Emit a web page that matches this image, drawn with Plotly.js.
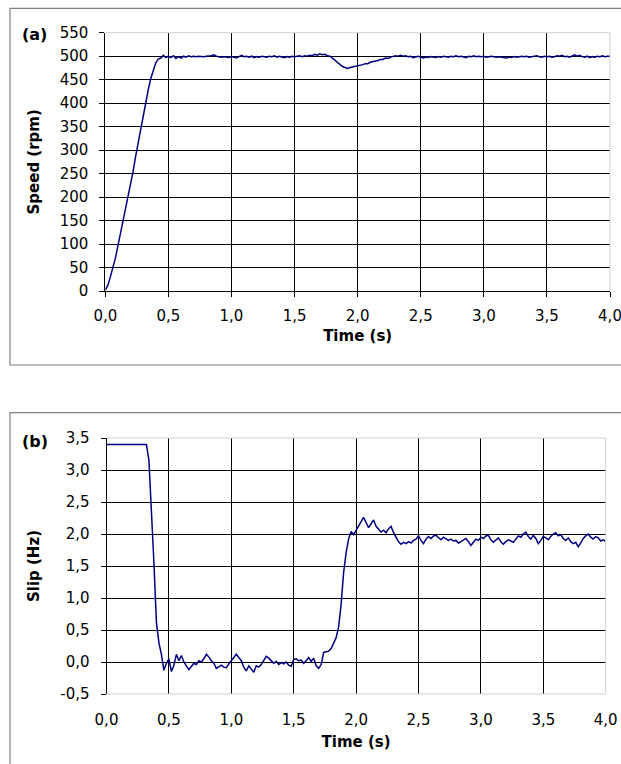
<!DOCTYPE html>
<html>
<head>
<meta charset="utf-8">
<script src="https://cdn.plot.ly/plotly-3.0.1.min.js"></script>
<style>html,body{margin:0;padding:0;background:#fff;overflow:hidden;}#chart{width:640px;height:764px;}</style>
</head>
<body>
<div id="chart"></div>
<script>
// Sampling step of both recordings (s)
var timeStep = 0.02;

// Rotor speed (rpm), one value every 0.02 s from 0.00 to 4.00 s
var speedRpm = [
  2,12,30,48,70,96,122,146,172,198,
  224,254,286,316,342,370,398,428,452,472,
  486,494,496,502,497,500,497,501,495,499,
  496,500,498,501,499,500,499,500,499,499,
  500,500,501,503,500,499,498,499,498,497,
  499,498,496,499,502,499,500,498,500,497,
  499,498,500,499,498,500,499,501,498,500,
  499,497,499,498,500,499,500,501,499,501,
  500,502,501,504,502,505,503,504,501,500,
  496,491,486,481,478,476,474,476,477,479,
  480,481,482,484,484,487,488,489,491,493,
  493,496,495,498,499,501,500,502,500,501,
  499,500,497,499,500,498,496,498,497,499,
  498,497,499,498,500,499,498,500,499,501,
  499,500,498,497,500,499,501,499,500,499,
  500,498,499,500,499,498,499,498,497,496,
  498,497,499,498,499,500,499,500,498,499,
  500,501,499,498,500,499,500,498,499,501,
  500,502,499,500,498,501,503,500,502,499,
  498,500,497,499,498,500,499,501,499,500,
  500
];

// Slip frequency (Hz), one value every 0.02 s from 0.00 to 4.00 s
var slipHz = [
  3.4,3.4,3.4,3.4,3.4,3.4,3.4,3.4,3.4,3.4,
  3.4,3.4,3.4,3.4,3.4,3.4,3.4,3.15,2.45,1.55,
  0.62,0.30,0.12,-0.13,-0.02,0.05,-0.15,-0.05,0.12,0.02,
  0.10,0.00,-0.06,-0.12,-0.07,-0.02,-0.04,0.02,0.00,0.05,
  0.12,0.08,0.02,-0.02,-0.10,-0.07,-0.05,-0.08,-0.09,-0.03,
  0.02,0.06,0.12,0.07,0.02,-0.08,-0.14,-0.06,-0.11,-0.16,
  -0.06,-0.08,-0.04,0.03,0.09,0.06,0.02,-0.02,0.01,-0.04,
  -0.01,-0.03,0.00,-0.05,-0.07,0.04,0.05,0.02,0.03,-0.02,
  0.02,0.07,0.01,0.06,-0.06,-0.10,-0.04,0.15,0.16,0.17,
  0.21,0.30,0.38,0.55,0.90,1.40,1.71,1.92,2.04,1.99,
  2.06,2.12,2.20,2.26,2.18,2.10,2.16,2.22,2.12,2.08,
  2.03,2.06,2.02,2.08,2.12,2.02,1.95,1.88,1.84,1.87,
  1.85,1.88,1.86,1.90,1.92,1.97,1.90,1.85,1.92,1.96,
  1.93,1.97,1.98,1.94,1.91,1.95,1.93,1.90,1.92,1.89,
  1.90,1.86,1.88,1.91,1.93,1.88,1.82,1.87,1.92,1.90,
  1.95,1.93,1.97,1.98,1.91,1.87,1.90,1.94,1.88,1.84,
  1.88,1.91,1.89,1.87,1.92,1.97,1.95,2.00,2.03,1.96,
  1.92,1.98,1.93,1.85,1.90,1.96,1.94,1.91,1.96,2.00,
  2.02,1.97,1.99,1.93,1.90,1.94,1.88,1.85,1.87,1.80,
  1.86,1.93,1.97,2.00,1.95,1.92,1.96,1.94,1.89,1.91,
  1.88
];

// Tick values
var timeTicks = [0, 0.5, 1, 1.5, 2, 2.5, 3, 3.5, 4];
var speedTicks = [0, 50, 100, 150, 200, 250, 300, 350, 400, 450, 500, 550];
var slipTicks = [-0.5, 0, 0.5, 1, 1.5, 2, 2.5, 3, 3.5];

// Axis labels / panel tags
var xTitle = 'Time (s)';
var speedTitle = 'Speed (rpm)';
var slipTitle = 'Slip (Hz)';
var panelTags = ['(a)', '(b)'];

function timesFor(arr) {
  var t = [];
  for (var i = 0; i < arr.length; i++) t.push(Math.round(i * timeStep * 100) / 100);
  return t;
}
function commaLabels(vals, dec) {
  return vals.map(function (v) { return v.toFixed(dec).replace('.', ','); });
}

var W = 640, H = 764;
var FONT = 'DejaVu Sans, Arial, sans-serif';
var tickFont = {family: FONT, size: 15, color: '#000'};
var titleFont = {family: FONT, size: 15, color: '#000', weight: 'bold'};
var lineColor = '#000080';

var traces = [
  {x: timesFor(speedRpm), y: speedRpm, type: 'scatter', mode: 'lines',
   line: {color: lineColor, width: 1.5}, xaxis: 'x', yaxis: 'y', hoverinfo: 'none'},
  {x: timesFor(slipHz), y: slipHz, type: 'scatter', mode: 'lines',
   line: {color: lineColor, width: 1.5}, xaxis: 'x2', yaxis: 'y2', hoverinfo: 'none'}
];

function xAxis(domain, anchor, showline, lblStandoff, ttlStandoff) {
  return {
    domain: domain, anchor: anchor, range: [0, 4],
    tickmode: 'array', tickvals: timeTicks, ticktext: commaLabels(timeTicks, 1),
    showgrid: true, gridcolor: '#000', gridwidth: 1,
    zeroline: false, showline: showline, linecolor: '#000', linewidth: 1,
    ticks: showline ? 'outside' : '', ticklen: 5, tickcolor: '#000',
    tickfont: tickFont, ticklabelstandoff: lblStandoff,
    title: {text: xTitle, font: titleFont, standoff: ttlStandoff},
    fixedrange: true
  };
}
function yAxis(domain, anchor, range, vals, dec, title, zl) {
  return {
    domain: domain, anchor: anchor, range: range,
    tickmode: 'array', tickvals: vals, ticktext: commaLabels(vals, dec),
    showgrid: true, gridcolor: '#000', gridwidth: 1,
    zeroline: zl, zerolinecolor: '#000', zerolinewidth: 1,
    showline: true, linecolor: '#000', linewidth: 1,
    ticks: 'outside', ticklen: 5, tickcolor: '#000',
    tickfont: tickFont, ticklabelstandoff: 8,
    title: {text: title, font: titleFont, standoff: 16},
    fixedrange: true
  };
}

var grayBorder = {color: '#d0d0d0', width: 1};
var frameLine = {color: '#808080', width: 1.2};

var layout = {
  width: W, height: H,
  margin: {l: 0, r: 0, t: 0, b: 0},
  paper_bgcolor: '#fff', plot_bgcolor: '#fff',
  showlegend: false,
  xaxis: xAxis([105.3 / W, 610 / W], 'y', true, 6, 6),
  yaxis: yAxis([1 - 291 / H, 1 - 32.7 / H], 'x', [0, 550], speedTicks, 0, speedTitle, false),
  xaxis2: xAxis([106.5 / W, 605.7 / W], 'y2', false, 15, 8),
  yaxis2: yAxis([1 - 694 / H, 1 - 438 / H], 'x2', [-0.5, 3.5], slipTicks, 1, slipTitle, true),
  shapes: [
    // chart frames
    {type: 'rect', xref: 'paper', yref: 'paper', x0: 10 / W, x1: 1.05, y0: 1 - 365 / H, y1: 1 - 8.3 / H, line: frameLine, layer: 'below'},
    {type: 'rect', xref: 'paper', yref: 'paper', x0: 10 / W, x1: 1.05, y0: -0.05, y1: 1 - 412.7 / H, line: frameLine, layer: 'below'},
    // plot-area borders (light gray)
    {type: 'line', xref: 'x domain', yref: 'y domain', x0: 0, x1: 1, y0: 1, y1: 1, line: grayBorder, layer: 'above'},
    {type: 'line', xref: 'x domain', yref: 'y domain', x0: 1, x1: 1, y0: 0, y1: 1, line: grayBorder, layer: 'above'},
    {type: 'line', xref: 'x2 domain', yref: 'y2 domain', x0: 0, x1: 1, y0: 1, y1: 1, line: grayBorder, layer: 'above'},
    {type: 'line', xref: 'x2 domain', yref: 'y2 domain', x0: 1, x1: 1, y0: 0, y1: 1, line: grayBorder, layer: 'above'},
    {type: 'line', xref: 'x2 domain', yref: 'y2 domain', x0: 0, x1: 1, y0: 0, y1: 0, line: grayBorder, layer: 'above'}
  ],
  annotations: [
    {text: panelTags[0], xref: 'paper', yref: 'paper', x: 34.7 / W, y: 1 - 34 / H,
     xanchor: 'center', yanchor: 'middle', showarrow: false, font: {family: FONT, size: 16, color: '#000', weight: 'bold'}},
    {text: panelTags[1], xref: 'paper', yref: 'paper', x: 34.7 / W, y: 1 - 441 / H,
     xanchor: 'center', yanchor: 'middle', showarrow: false, font: {family: FONT, size: 16, color: '#000', weight: 'bold'}}
  ]
};

Plotly.newPlot('chart', traces, layout, {staticPlot: true, displayModeBar: false});
</script>
</body>
</html>
